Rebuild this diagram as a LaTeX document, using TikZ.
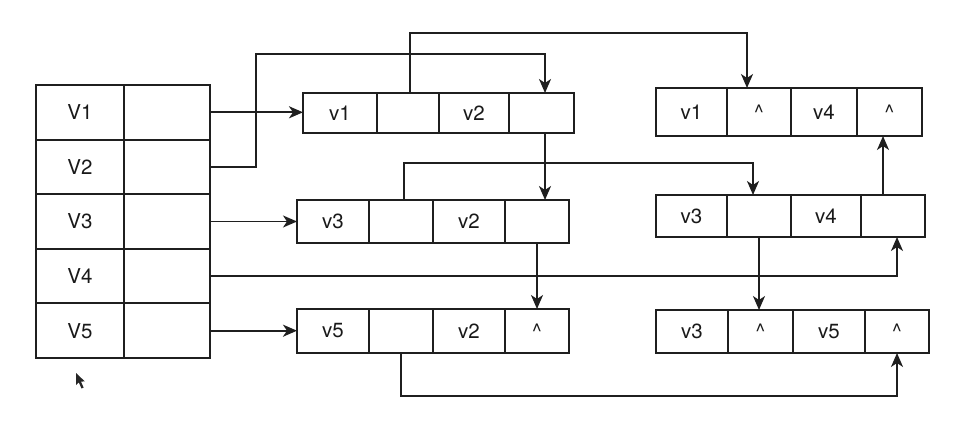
\documentclass[tikz,border=0pt]{standalone}
\usepackage{fontspec}
\setmainfont{TeX Gyre Heros}
\usetikzlibrary{arrows.meta,calc}
\tikzset{
  cell/.style={draw=black!88, line width=1.9pt, rectangle, inner sep=0pt, outer sep=0pt,
    font=\fontsize{20.5}{24}\selectfont, text=black!90},
  arr/.style={draw=black!88, line width=1.9pt, -{Stealth[length=14pt,width=12pt,inset=4pt]}}
}
\begin{document}
\begin{tikzpicture}[x=1pt,y=-1pt]
\useasboundingbox (0,0) rectangle (953,422);
% left table
\foreach \i/\lab in {1/V1,2/V2,3/V3,4/V4,5/V5}{
  \node[cell, minimum width=88pt, minimum height=54.6pt] (L\i a) at (80,{85+54.6*(\i-0.5)}) {\lab};
  \node[cell, minimum width=86pt, minimum height=54.6pt] (L\i b) at (167,{85+54.6*(\i-0.5)}) {};
}
% row a
\node[cell, minimum width=74pt, minimum height=40pt] (a1) at (340,113) {v1};
\node[cell, minimum width=62pt, minimum height=40pt] (a2) at (408,113) {};
\node[cell, minimum width=70pt, minimum height=40pt] (a3) at (474,113) {v2};
\node[cell, minimum width=65pt, minimum height=40pt] (a4) at (541.5,113) {};
% row b
\node[cell, minimum width=72pt, minimum height=43pt] (b1) at (333,221.5) {v3};
\node[cell, minimum width=64pt, minimum height=43pt] (b2) at (401,221.5) {};
\node[cell, minimum width=72pt, minimum height=43pt] (b3) at (469,221.5) {v2};
\node[cell, minimum width=64pt, minimum height=43pt] (b4) at (537,221.5) {};
% row c
\node[cell, minimum width=72pt, minimum height=44pt] (c1) at (333,331) {v5};
\node[cell, minimum width=64pt, minimum height=44pt] (c2) at (401,331) {};
\node[cell, minimum width=72pt, minimum height=44pt] (c3) at (469,331) {v2};
\node[cell, minimum width=64pt, minimum height=44pt] (c4) at (537,331) {\textasciicircum};
% row d
\node[cell, minimum width=71pt, minimum height=48pt] (d1) at (691.5,112) {v1};
\node[cell, minimum width=64pt, minimum height=48pt] (d2) at (759,112) {\textasciicircum};
\node[cell, minimum width=66pt, minimum height=48pt] (d3) at (824,112) {v4};
\node[cell, minimum width=65pt, minimum height=48pt] (d4) at (889.5,112) {\textasciicircum};
% row e
\node[cell, minimum width=71pt, minimum height=42pt] (e1) at (691.5,216) {v3};
\node[cell, minimum width=64pt, minimum height=42pt] (e2) at (759,216) {};
\node[cell, minimum width=70pt, minimum height=42pt] (e3) at (826,216) {v4};
\node[cell, minimum width=64pt, minimum height=42pt] (e4) at (893,216) {};
% row f
\node[cell, minimum width=72pt, minimum height=43pt] (f1) at (692,331.5) {v3};
\node[cell, minimum width=65pt, minimum height=43pt] (f2) at (760.5,331.5) {\textasciicircum};
\node[cell, minimum width=72pt, minimum height=43pt] (f3) at (829,331.5) {v5};
\node[cell, minimum width=64pt, minimum height=43pt] (f4) at (897,331.5) {\textasciicircum};
% connectors
\draw[arr] (L1b.east) -- (L1b.east -| a1.west);
\coordinate (k2) at (256,54);
\draw[arr] (L2b.east) -| (k2) -| ([xshift=3.5pt]a4.north);
\draw[arr] ([xshift=2pt]a2.north) -- ([xshift=2pt]a2.north |- 0,33) -| ([xshift=-12pt]d2.north);
\draw[arr] ([xshift=3.5pt]a4.south) -- ([xshift=3.5pt]a4.south |- b4.north);
\draw[arr] ([xshift=3pt]b2.north) -- ([xshift=3pt]b2.north |- 0,163) -| ([xshift=-6pt]e2.north);
\draw[arr] (L3b.east) -- (L3b.east -| b1.west);
\draw[arr] (b4.south) -- (b4.south |- c4.north);
\draw[arr] (L4b.east) -| ([xshift=4pt]e4.south);
\draw[arr] (L5b.east) -- (L5b.east -| c1.west);
\draw[arr] (c2.south) -- (c2.south |- 0,396) -| (f4.south);
\draw[arr] ([xshift=-10pt]e4.north) -- ([xshift=-10pt]e4.north |- d4.south);
\draw[arr] (e2.south) -- (e2.south |- f2.north);
% mouse cursor
\fill[black!85] (76,373) -- (76,385) -- (78.8,382.4) -- (81.5,388.5) -- (83.6,387.6) -- (81,381.6) -- (84.8,381.4) -- cycle;
\end{tikzpicture}
\end{document}
